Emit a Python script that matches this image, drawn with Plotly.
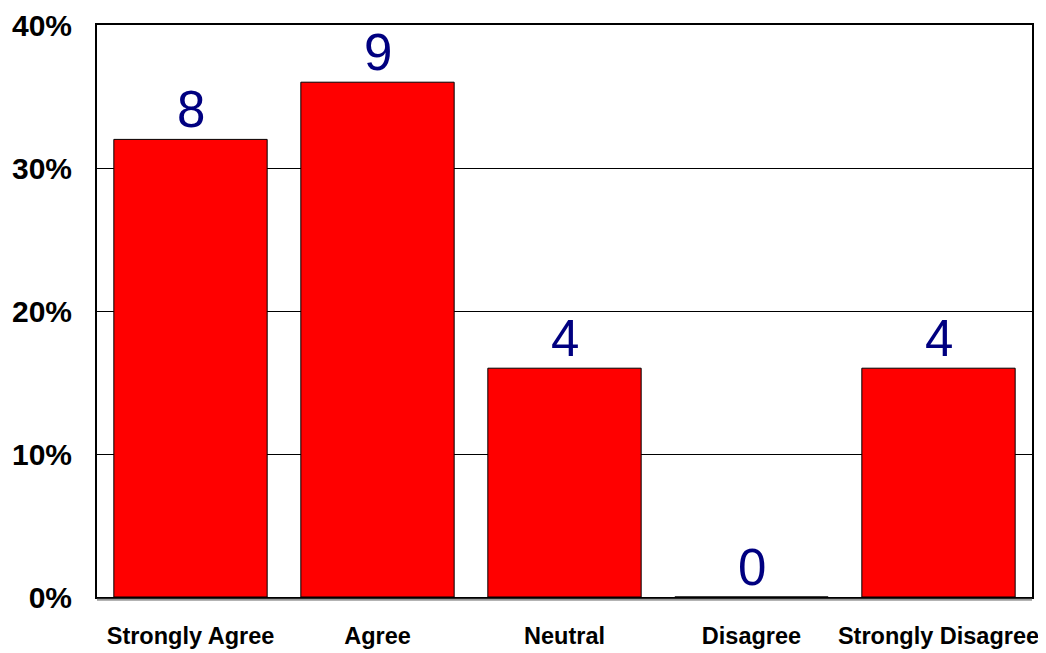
import plotly.graph_objects as go

categories = ["Strongly Agree", "Agree", "Neutral", "Disagree", "Strongly Disagree"]
percents = [32, 36, 16, 0, 16]
counts = [8, 9, 4, 0, 4]
y_ticks = [0, 10, 20, 30, 40]
y_tick_labels = ["0%", "10%", "20%", "30%", "40%"]

fig = go.Figure()
fig.add_trace(go.Bar(
    x=categories, y=percents,
    marker=dict(color="#FF0000", line=dict(color="#000000", width=1)),
    hoverinfo="skip",
))

for c, p, n in zip(categories, percents, counts):
    fig.add_annotation(
        x=c, y=p, text=str(n), showarrow=False,
        yanchor="bottom", yshift=-1,
        font=dict(family="Liberation Sans, Arial, sans-serif", size=51, color="#000080"),
    )

# subtle grey shadow line under the baseline, as in the reference
fig.add_shape(type="line", xref="paper", yref="paper", x0=0, x1=1, y0=-0.005, y1=-0.005,
              line=dict(color="#9a9a9a", width=2))

fig.update_layout(
    width=1046, height=653,
    margin=dict(l=89, r=22, t=17, b=64, autoexpand=False),
    paper_bgcolor="white", plot_bgcolor="white",
    bargap=0.18,
    showlegend=False,
    font=dict(family="Liberation Sans, Arial, sans-serif", color="black"),
)
fig.update_yaxes(
    range=[0, 40], tickvals=y_ticks, ticktext=y_tick_labels,
    showgrid=True, gridcolor="black", gridwidth=1,
    showline=True, linecolor="black", linewidth=2, mirror=True,
    ticks="", ticklabelstandoff=17, automargin=False,
    tickfont=dict(family="Liberation Sans, Arial, sans-serif", size=30, weight="bold", color="black"),
    zeroline=False,
)
fig.update_xaxes(
    showline=True, linecolor="black", linewidth=2, mirror=True,
    ticks="", ticklabelstandoff=17, automargin=False,
    tickfont=dict(family="Liberation Sans, Arial, sans-serif", size=23.5, weight="bold", color="black"),
)

fig.write_html("out.html")
